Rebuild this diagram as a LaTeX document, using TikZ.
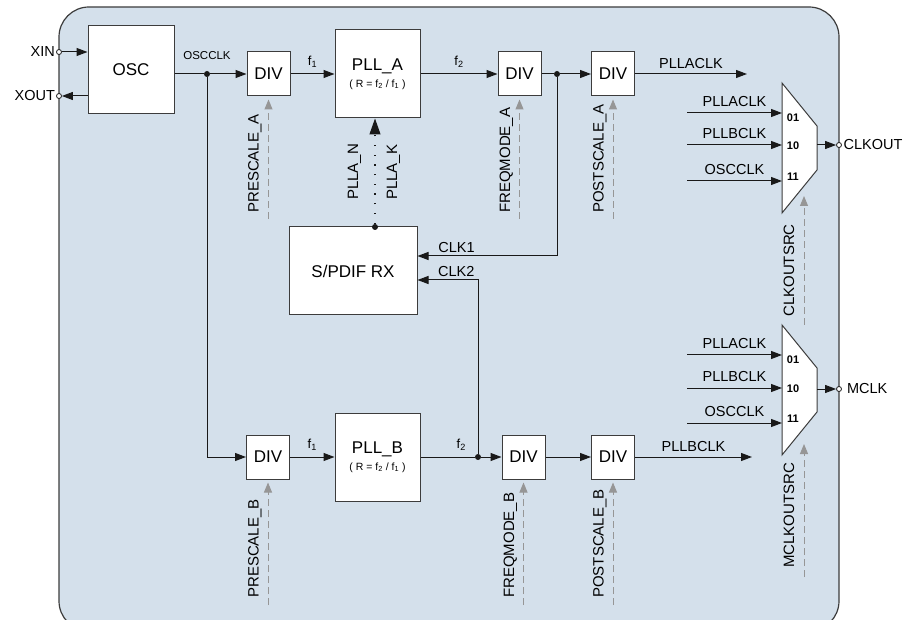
\documentclass[tikz,border=0pt]{standalone}
\usepackage{fontspec}
\setmainfont{Liberation Sans}
\usetikzlibrary{arrows.meta,positioning}
\definecolor{panel}{RGB}{212,224,235}
\definecolor{wirecol}{RGB}{25,25,25}
\definecolor{edgecol}{RGB}{60,60,60}
\definecolor{ctrlgray}{RGB}{150,150,150}

\begin{document}
\begin{tikzpicture}[
  x=1pt, y=-1pt,
  every node/.style={font=\fontsize{14.5}{16}\selectfont},
  block/.style={draw=edgecol, fill=white, line width=1pt, inner sep=0pt,
                align=center, font=\fontsize{17}{19}\selectfont},
  div/.style={block, minimum width=43pt, minimum height=44pt},
  big/.style={block, minimum width=85pt, minimum height=88pt},
  muxbox/.style={draw=edgecol, fill=white, line width=1pt},
  conn/.style={draw=wirecol, line width=1pt},
  sig/.style={conn, -{Triangle[length=11pt,width=8pt]}},
  ctrl/.style={draw=ctrlgray, line width=1pt, dash pattern=on 7pt off 4pt,
               -{Triangle[length=10pt,width=8pt]}, shorten >=3pt},
  ctrllab/.style={rotate=90, anchor=base west, inner sep=0pt,
                  font=\fontsize{15}{17}\selectfont},
  junction/.style={circle, fill=wirecol, inner sep=0pt, minimum size=6pt},
  port/.style={circle, draw=wirecol, fill=white, line width=0.8pt,
               inner sep=0pt, minimum size=5pt},
  flab/.style={font=\fontsize{13}{15}\selectfont, inner sep=0pt},
  sellab/.style={font=\bfseries\fontsize{11}{13}\selectfont, inner sep=0pt},
]
\useasboundingbox (0,0) rectangle (908,620);
\clip (0,0) rectangle (908,620);

% panel
\draw[draw=edgecol, fill=panel, line width=1.2pt, rounded corners=30pt]
  (59,7) rectangle (839,631);

% blocks
\node[block, minimum width=86pt, minimum height=88pt] (osc) at (131,70) {OSC};
\node[div] (divpa) at (268.5,74) {DIV};
\node[big] (plla) at (377.5,74)
  {PLL\_A\\[-2pt]{\fontsize{10.5}{12}\selectfont ( R = f\textsubscript{2} / f\textsubscript{1} )}};
\node[div] (divfa) at (519.5,74) {DIV};
\node[div] (divsa) at (613,74) {DIV};
\node[block, minimum width=128pt, minimum height=88pt] (spdif) at (353,271) {S/PDIF RX};
\node[div] (divpb) at (268,457) {DIV};
\node[big] (pllb) at (377.5,457)
  {PLL\_B\\[-2pt]{\fontsize{10.5}{12}\selectfont ( R = f\textsubscript{2} / f\textsubscript{1} )}};
\node[div] (divfb) at (523.5,457) {DIV};
\node[div] (divsb) at (613,457) {DIV};

% pins
\node[port] (xin) at (59,52) {};
\node[port] (xout) at (59,96) {};
\node[anchor=east, inner sep=1pt] (lxin) at (xin.west) {XIN};
\node[anchor=east, inner sep=1pt] (lxout) at (xout.west) {XOUT};
\draw[sig] (xin) -- (xin -| osc.west);
\draw[sig] (xout -| osc.west) -- (xout);

% junctions
\node[junction] (jo) at (207,74) {};
\node[junction] (ja) at (557,74) {};
\node[junction] (js) at (375,227) {};
\node[junction] (jb) at (478,457) {};
\node[font=\fontsize{11.5}{13}\selectfont, inner sep=0pt, above=11pt of jo] (losc) {OSCCLK};

% path A
\draw[conn] (jo -| osc.east) -- (jo);
\draw[sig] (jo) -- (divpa);
\draw[sig] (divpa) -- node[flab, above=6pt] (fa1) {f\textsubscript{1}} (plla);
\draw[sig] (plla) -- node[flab, above=6pt] (fa2) {f\textsubscript{2}} (divfa);
\draw[conn] (divfa) -- (ja);
\draw[sig] (ja) -- (divsa);
\coordinate (outa) at (747,74);
\draw[sig] (divsa) -- node[above=5pt, inner sep=0pt] (lplla) {PLLACLK} (outa);

% path B
\draw[sig] (jo) |- (divpb);
\draw[sig] (divpb) -- node[flab, above=6pt] (fb1) {f\textsubscript{1}} (pllb);
\draw[conn] (pllb) -- node[flab, above=6pt, pos=0.75] (fb2) {f\textsubscript{2}} (jb);
\draw[sig] (jb) -- (divfb);
\draw[sig] (divfb) -- (divsb);
\coordinate (outb) at (752,457);
\draw[sig] (divsb) -- node[above=5pt, inner sep=0pt] (lpllb) {PLLBCLK} (outb);

% S/PDIF receiver
\draw[sig] (ja) |- node[pos=0.86, above, inner sep=2.5pt] (lclk1) {CLK1} ([yshift=15pt]spdif.east);
\draw[sig] (jb) |- node[pos=0.68, above, inner sep=2.5pt] (lclk2) {CLK2} ([yshift=-9pt]spdif.east);
\draw[conn, line width=1.2pt, dash pattern=on 1.2pt off 8.5pt,
      -{Triangle[length=16pt,width=11pt]}] (js) -- (js |- plla.south);
\node[ctrllab] (lplln) at (358,200) {PLLA\_N};
\node[ctrllab] (lpllk) at (397,200) {PLLA\_K};

% dividers control
\coordinate (cpa) at (268.5,219);
\coordinate (cfa) at (519.5,219);
\coordinate (csa) at (613,219);
\coordinate (cpb) at (268,605);
\coordinate (cfb) at (523.5,605);
\coordinate (csb) at (613,605);
\draw[ctrl] (cpa) -- (divpa);
\draw[ctrl] (cfa) -- (divfa);
\draw[ctrl] (csa) -- (divsa);
\draw[ctrl] (cpb) -- (divpb);
\draw[ctrl] (cfb) -- (divfb);
\draw[ctrl] (csb) -- (divsb);
\node[ctrllab] (lpsa) at (258.5,213) {PRESCALE\_A};
\node[ctrllab] (lfma) at (510,213) {FREQMODE\_A};
\node[ctrllab] (lpoa) at (603.5,213) {POSTSCALE\_A};
\node[ctrllab] (lpsb) at (258.5,598) {PRESCALE\_B};
\node[ctrllab] (lfmb) at (514,598) {FREQMODE\_B};
\node[ctrllab] (lpob) at (603.5,598) {POSTSCALE\_B};

% CLKOUT mux
\draw[muxbox] (782,83) -- (817,126) -- (817,170) -- (782,213) -- cycle;
\coordinate (s1a) at (687,113); \coordinate (m1a) at (782,113);
\coordinate (s1b) at (687,145); \coordinate (m1b) at (782,145);
\coordinate (s1c) at (687,181); \coordinate (m1c) at (782,181);
\draw[sig] (s1a) -- node[above=6pt, inner sep=0pt] (l1a) {PLLACLK} (m1a);
\draw[sig] (s1b) -- node[above=6pt, inner sep=0pt] (l1b) {PLLBCLK} (m1b);
\draw[sig] (s1c) -- node[above=6pt, inner sep=0pt] (l1c) {OSCCLK} (m1c);
\node[sellab] (n1a) at (793,118) {01};
\node[sellab] (n1b) at (793,146) {10};
\node[sellab] (n1c) at (793,177) {11};
\node[port] (clkout) at (839,145) {};
\coordinate (m1o) at (817,145);
\draw[sig] (m1o) -- (clkout);
\node[anchor=west, inner sep=1.5pt] (lclkout) at (clkout.east) {CLKOUT};
\coordinate (sel1) at (804,325);
\coordinate (sel1t) at (804,196);
\draw[ctrl, shorten >=0pt] (sel1) -- (sel1t);
\node[ctrllab] (lsel1) at (794,317) {CLKOUTSRC};

% MCLK mux
\draw[muxbox] (782,325) -- (817,368) -- (817,412) -- (782,455) -- cycle;
\coordinate (s2a) at (687,355); \coordinate (m2a) at (782,355);
\coordinate (s2b) at (687,388); \coordinate (m2b) at (782,388);
\coordinate (s2c) at (687,423); \coordinate (m2c) at (782,423);
\draw[sig] (s2a) -- node[above=6pt, inner sep=0pt] (l2a) {PLLACLK} (m2a);
\draw[sig] (s2b) -- node[above=6pt, inner sep=0pt] (l2b) {PLLBCLK} (m2b);
\draw[sig] (s2c) -- node[above=6pt, inner sep=0pt] (l2c) {OSCCLK} (m2c);
\node[sellab] (n2a) at (793,360) {01};
\node[sellab] (n2b) at (793,389) {10};
\node[sellab] (n2c) at (793,419) {11};
\node[port] (mclk) at (839,389) {};
\coordinate (m2o) at (817,389);
\draw[sig] (m2o) -- (mclk);
\node[anchor=west, inner sep=5pt] (lmclk) at (mclk.east) {MCLK};
\coordinate (sel2) at (804,577);
\coordinate (sel2t) at (804,444);
\draw[ctrl, shorten >=0pt] (sel2) -- (sel2t);
\node[ctrllab] (lsel2) at (794,568) {MCLKOUTSRC};

\end{tikzpicture}
\end{document}
